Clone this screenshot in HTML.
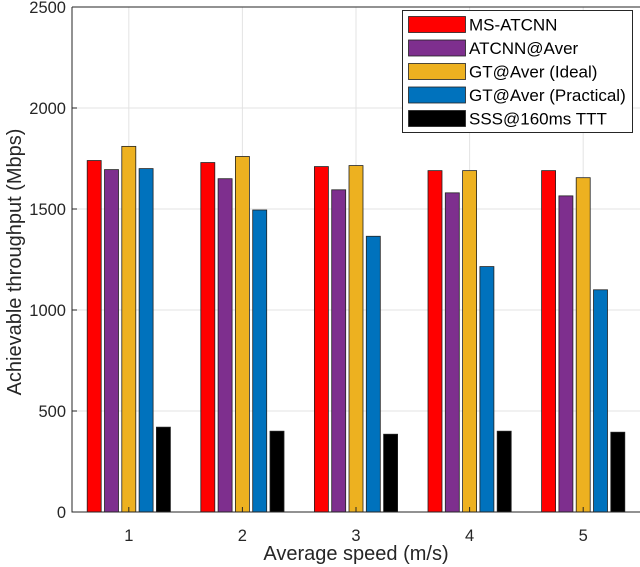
<!DOCTYPE html>
<html><head><meta charset="utf-8"><style>
body{margin:0;background:#fff}
svg{display:block;font-family:"Liberation Sans",sans-serif}
</style></head><body>
<svg id="c" width="640" height="567"></svg>
<script>
const categories=[1,2,3,4,5];
const seriesNames=["MS-ATCNN","ATCNN@Aver","GT@Aver (Ideal)","GT@Aver (Practical)","SSS@160ms TTT"];
const msAtcnn=[1740,1730,1710,1690,1690];
const atcnnAver=[1695,1650,1595,1580,1565];
const gtIdeal=[1810,1760,1715,1690,1655];
const gtPractical=[1700,1495,1365,1215,1100];
const sss=[420,400,385,400,395];
const yTicks=[0,500,1000,1500,2000,2500];
const series=[msAtcnn,atcnnAver,gtIdeal,gtPractical,sss];
const colors=["#ff0000","#7e2f8e","#edb120","#0072bd","#000000"];
const NS="http://www.w3.org/2000/svg";
const svg=document.getElementById('c');
const L=72,R=640,T=7,B=512;
const x=v=>L+(v-0.5)*(R-L)/5;
const y=v=>B-(v/2500)*(B-T);
function mk(t,a,p){const e=document.createElementNS(NS,t);for(const k in a)e.setAttribute(k,a[k]);(p||svg).appendChild(e);return e;}
yTicks.forEach(t=>{const g=mk('line',{x1:L,x2:R,y1:y(t),y2:y(t),stroke:'#e3e3e3','stroke-width':1});


const lb=mk('text',{x:L-6,y:y(t)+6,'text-anchor':'end','font-size':16.5,fill:'#262626'});lb.textContent=t;

});
categories.forEach(c=>{const g=mk('line',{x1:x(c),x2:x(c),y1:T,y2:B,stroke:'#e3e3e3','stroke-width':1});


const lb=mk('text',{x:x(c),y:541,'text-anchor':'middle','font-size':16.5,fill:'#262626'});lb.textContent=c;

});
const bw=14,step=17.3;
series.forEach((s,i)=>{s.forEach((v,j)=>{const cx=x(categories[j])+(i-2)*step;
const r=mk('rect',{x:cx-bw/2,y:y(v),width:bw,height:B-y(v),fill:colors[i],stroke:'#222','stroke-width':0.8});

});});
const ax=mk('path',{d:`M${L},${T}V${B}H${R}`,fill:'none',stroke:'#262626','stroke-width':1});


mk('line',{x1:L,x2:R,y1:T,y2:T,stroke:'#262626','stroke-width':1});
yTicks.forEach(t=>mk('line',{x1:L,x2:L+5,y1:y(t),y2:y(t),stroke:'#262626'}));
categories.forEach(c=>mk('line',{x1:x(c),x2:x(c),y1:B,y2:B-5,stroke:'#262626'}));
const xt=mk('text',{x:356,y:560,'text-anchor':'middle','font-size':20,fill:'#262626'});xt.textContent='Average speed (m/s)';


const yt=mk('text',{x:0,y:0,'text-anchor':'middle','font-size':20,fill:'#262626',transform:'translate(21,262) rotate(-90)'});yt.textContent='Achievable throughput (Mbps)';


const lg=mk('g',{});


mk('rect',{x:402.5,y:10.5,width:230,height:122,fill:'#fff',stroke:'#262626','stroke-width':1},lg);
seriesNames.forEach((n,i)=>{const cy=24.5+i*23.5;
const e=mk('g',{},lg);


mk('rect',{x:408.5,y:cy-8,width:57,height:16,fill:colors[i],stroke:'#222','stroke-width':0.8},e);
const t=mk('text',{x:469,y:cy+6,'font-size':17,fill:'#000'},e);t.textContent=n;});
</script>
</body></html>
